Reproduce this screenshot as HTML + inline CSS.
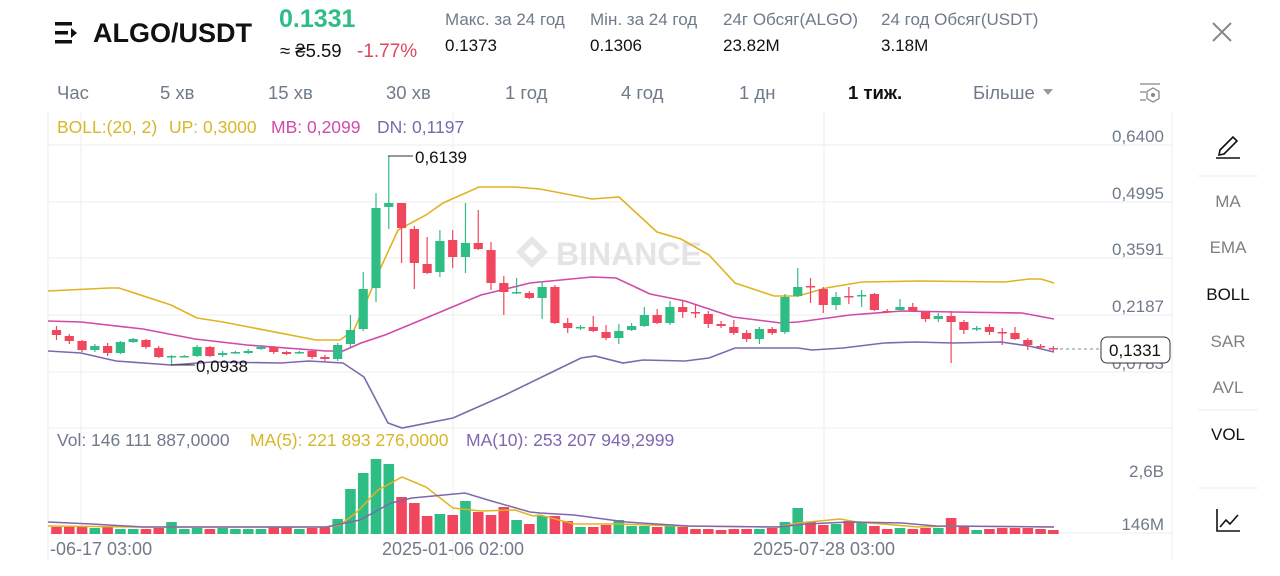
<!DOCTYPE html>
<html><head><meta charset="utf-8"><style>
html,body{margin:0;padding:0;background:#fff;width:1280px;height:576px;overflow:hidden;font-family:"Liberation Sans","DejaVu Sans",sans-serif}
</style></head><body>
<svg id="s" width="1280" height="576" viewBox="0 0 1280 576" xmlns="http://www.w3.org/2000/svg" font-family="Liberation Sans, DejaVu Sans, sans-serif">
<g fill="#111">
<rect x="55" y="22" width="17" height="3.5"/><rect x="55" y="31" width="13" height="3.5"/><rect x="55" y="40" width="17" height="3.5"/>
<path d="M71 28 L77 33 L71 38 Z"/>
</g>
<text x="93" y="42" font-size="27" font-weight="bold" fill="#111">ALGO/USDT</text>
<text x="279" y="27" font-size="25" font-weight="bold" fill="#2ebd85">0.1331</text>
<text x="280" y="57" font-size="18.5" fill="#111">≈ ₴5.59</text>
<text x="357" y="57" font-size="19" fill="#e0455e">-1.77%</text>
<g font-size="17" fill="#707a8a">
<text x="445" y="25">Макс. за 24 год</text><text x="590" y="25">Мін. за 24 год</text>
<text x="723" y="25">24г Обсяг(ALGO)</text><text x="881" y="25">24 год Обсяг(USDT)</text></g>
<g font-size="17" fill="#111">
<text x="445" y="51">0.1373</text><text x="590" y="51">0.1306</text>
<text x="723" y="51">23.82M</text><text x="881" y="51">3.18M</text></g>
<path d="M1213 23 L1231 41 M1231 23 L1213 41" stroke="#888" stroke-width="2"/>
<g font-size="18.5" fill="#707a8a">
<text x="57" y="99">Час</text><text x="160" y="99">5 хв</text><text x="268" y="99">15 хв</text>
<text x="386" y="99">30 хв</text><text x="505" y="99">1 год</text><text x="621" y="99">4 год</text>
<text x="739" y="99">1 дн</text><text x="848" y="99" fill="#111" font-weight="bold">1 тиж.</text>
<text x="973" y="99">Більше</text></g>
<path d="M1043 89 L1053 89 L1048 95 Z" fill="#999"/>
<g stroke="#888" stroke-width="1.3" fill="none"><path d="M1140 84 H1160 M1140 92 H1146 M1140 100 H1146"/><path d="M1153 88 L1159 91.5 V98.5 L1153 102 L1147 98.5 V91.5 Z"/></g>
<circle cx="1153" cy="95" r="2" fill="#888"/>
<g stroke="#eeeeee" stroke-width="1">
<path d="M48 145 H1172 M48 202 H1172 M48 258 H1172 M48 315 H1172 M48 372 H1172 M48 428 H1172 M48 533 H1172"/>
<path d="M81 112 V560 M453 112 V560 M824 112 V560 M1172 112 V560 M48 112 V560"/>
</g>
<g stroke="#eee"><path d="M1198 176 H1258 M1198 410 H1258 M1198 488 H1258"/></g>
<g fill="#e6e6e6"><path d="M532 236 L548 252 L532 268 L516 252 Z M532 244 L540 252 L532 260 L524 252 Z" fill-rule="evenodd"/>
<text x="556" y="265" font-size="32" font-weight="bold" fill="#e4e4e4">BINANCE</text></g>
<g font-size="17.5">
<text x="57" y="133" fill="#d8b62a">BOLL:(20, 2)</text>
<text x="169" y="133" fill="#d8b62a">UP: 0,3000</text>
<text x="271" y="133" fill="#d04aa8">MB: 0,2099</text>
<text x="377" y="133" fill="#7d68b0">DN: 0,1197</text>
<text x="57" y="446" fill="#707a8a">Vol: 146 111 887,0000</text>
<text x="250" y="446" fill="#d8b62a">MA(5): 221 893 276,0000</text>
<text x="466" y="446" fill="#7d68b0">MA(10): 253 207 949,2999</text>
</g>
<g font-size="17" fill="#707a8a" text-anchor="end">
<text x="1164" y="142">0,6400</text><text x="1164" y="199">0,4995</text><text x="1164" y="255">0,3591</text>
<text x="1164" y="312">0,2187</text><text x="1164" y="369">0,0783</text>
<text x="1164" y="477">2,6B</text><text x="1164" y="530">146M</text></g>
<g font-size="18" fill="#707a8a">
<text x="50" y="555">-06-17 03:00</text>
<text x="453" y="555" text-anchor="middle">2025-01-06 02:00</text>
<text x="824" y="555" text-anchor="middle">2025-07-28 03:00</text></g>
<g fill="none" stroke-width="1.6">
<polyline stroke="#e0b320" points="48,291 109,288 119,288 171,305 197,318 223,322 316,340 340,340 354,330 367,300 381,267 398,230 426,215 443,203 479,187 515,187 540,189 592,199 619,197 657,232 681,239 709,255 735,283 774,296 798,296 826,288 862,282 919,281 1005,282 1029,279 1041,279 1054,283"/>
<polyline stroke="#d04aa8" points="48,321 81,322 143,329 195,339 247,345 326,351 343,351 361,343 385,335 426,318 481,295 530,283 540,282 592,277 616,278 650,294 685,301 733,317 781,323 798,322 850,315 902,311 953,312 1022,313 1054,319"/>
<polyline stroke="#7d68b0" points="48,351 81,353 116,361 171,365 212,362 281,363 309,361 343,363 364,377 388,423 402,428 453,418 505,395 546,375 581,358 595,356 623,363 643,360 685,361 709,358 735,348 798,348 812,350 843,348 884,343 915,342 953,343 1001,342 1029,346 1054,352"/>
</g>
<g id="c"></g>
<g fill="none" stroke-width="1.5">
<polyline stroke="#e0b320" points="48,526 143,527 326,527 340,525 357,512 378,490 402,477 426,487 453,508 481,511 515,510 533,516 540,515 574,524 619,524 678,526 778,527 798,523 840,519 857,522 919,527 953,526 1054,527"/>
<polyline stroke="#7d68b0" points="48,522 92,524 143,527 326,527 360,520 391,503 412,498 465,493 488,500 530,512 540,513 574,515 626,522 688,526 778,527 805,524 850,522 902,523 936,526 1054,527"/>
</g>
<path d="M388 156 H413" stroke="#333" stroke-width="1"/>
<text x="415" y="163" font-size="17" fill="#111">0,6139</text>
<path d="M171 365 H195" stroke="#333" stroke-width="1"/>
<text x="196" y="372" font-size="17" fill="#111">0,0938</text>
<path d="M1054 349 H1100" stroke="#888" stroke-dasharray="3,3"/>
<rect x="1101" y="337" width="69" height="26" rx="6" fill="#fff" stroke="#333"/>
<text x="1135" y="356" font-size="17" fill="#111" text-anchor="middle">0,1331</text>
<g stroke="#111" stroke-width="1.6" fill="none"><path d="M1220 150 L1233 137 L1237 141 L1224 154 L1219 155 Z"/><path d="M1216 158 H1240"/></g>
<g font-size="17" fill="#808080" text-anchor="middle">
<text x="1228" y="207">MA</text><text x="1228" y="253">EMA</text>
<text x="1228" y="300" fill="#111">BOLL</text><text x="1228" y="347">SAR</text>
<text x="1228" y="393">AVL</text><text x="1228" y="440" fill="#111">VOL</text></g>
<g stroke="#111" stroke-width="1.6" fill="none"><path d="M1217 509 V531 H1240"/><path d="M1220 527 L1226 520 L1230 524 L1238 515"/></g>
</svg>
<script>
var d=[["r",330,335,326,340],["r",336,341,334,344],["r",341,350,340,352],["g",346,350,344,352],["r",346,353,343,356],["g",342,353,341,354],["g",339,342,338,343],["r",340,347,339,349],["r",348,357,346,358],["g",356,357,355,365],["g",356,357,355,357],["g",347,356,345,357],["r",347,356,346,357],["g",353,355,351,357],["g",352,353,351,354],["g",351,353,349,354],["g",347,349,345,350],["r",347,352,346,354],["r",352,354,351,355],["g",352,353,351,354],["r",351,357,350,359],["r",357,359,355,361],["g",345,359,343,361],["g",330,344,315,347],["g",289,329,272,331],["g",208,288,193,302],["g",203,207,156,229],["r",203,228,203,263],["r",229,263,226,289],["r",264,273,237,274],["g",241,272,230,277],["r",240,257,230,268],["g",243,257,203,273],["r",243,249,210,250],["r",250,283,242,290],["r",283,292,276,315],["g",292,293,278,294],["r",293,298,291,299],["g",287,298,281,319],["r",287,323,285,324],["r",323,328,318,333],["g",327,328,325,330],["r",327,331,316,332],["r",332,338,325,340],["g",331,338,324,344],["g",326,330,323,331],["g",315,326,307,327],["r",315,323,309,324],["g",307,323,301,325],["r",307,312,301,318],["r",312,313,305,318],["r",314,324,311,328],["r",324,326,321,328],["r",327,333,320,335],["r",333,339,330,342],["g",329,339,327,344],["r",329,333,327,335],["g",297,332,294,334],["g",287,296,268,297],["r",286,287,278,303],["r",289,305,287,313],["g",297,305,292,310],["r",296,297,287,304],["g",295,296,290,307],["r",294,310,293,311],["r",311,312,309,313],["g",307,310,299,311],["r",307,311,303,312],["r",312,319,311,322],["g",316,319,313,322],["r",316,322,311,363],["r",322,330,320,334],["g",328,329,326,331],["r",327,332,324,335],["r",332,333,328,345],["r",333,339,327,340],["r",340,345,338,350],["r",346,347,344,349],["r",348,349,346,351]];
var v=[7,7,7,6,7,5,5,5,6,12,5,6,5,6,5,5,5,7,7,5,6,7,15,45,61,75,70,37,31,18,20,19,33,22,19,27,14,10,18,18,13,7,7,9,14,8,8,7,8,7,5,5,4,5,5,5,6,12,26,12,9,10,13,11,8,5,6,5,6,6,16,8,4,5,6,6,6,5,4];
var s="";
for(var i=0;i<d.length;i++){var c=d[i],x=56.5+i*12.78,col=c[0]=="g"?"#2ebd85":"#f0465e";
s+='<line x1="'+x+'" x2="'+x+'" y1="'+c[3]+'" y2="'+c[4]+'" stroke="'+col+'" stroke-width="1.2"/>';
var h=Math.max(c[2]-c[1],1.5);
s+='<rect x="'+(x-4.6)+'" y="'+c[1]+'" width="9.2" height="'+h+'" fill="'+col+'"/>';
s+='<rect x="'+(x-5.3)+'" y="'+(534-v[i])+'" width="10.6" height="'+v[i]+'" fill="'+col+'"/>';}
document.getElementById("c").innerHTML=s;
</script>
</body></html>
